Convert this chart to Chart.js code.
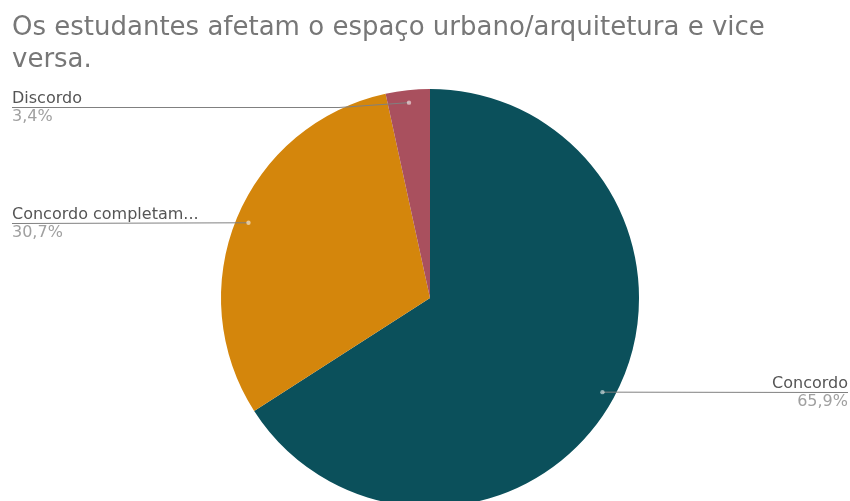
<!DOCTYPE html>
<html lang="pt">
<head>
<meta charset="utf-8">
<title>Os estudantes afetam o espaço urbano/arquitetura e vice versa.</title>
<script src="https://cdn.jsdelivr.net/npm/chart.js@4/dist/chart.umd.min.js"></script>
<style>
    html, body { margin: 0; padding: 0; background: #fff; overflow: hidden; }
    #wrap { position: relative; width: 850px; height: 520px; }
</style>
</head>
<body>
<div id="wrap"><canvas id="surveyChart"></canvas></div>
<script>
// Respostas (contagens) por categoria
const categories = ['Concordo', 'Concordo completamente', 'Discordo'];
const responses = [58, 27, 3];
const sliceColors = ['#0b505b', '#d4860c', '#a9505e'];
const titleLines = ['Os estudantes afetam o espaço urbano/arquitetura e vice', 'versa.'];

const labelFont = '16px "DejaVu Sans", sans-serif';

// Rótulos externos com linha guia, no estilo do Google Sheets
const sliceLabels = {
    id: 'sliceLabels',
    afterDatasetsDraw(chart) {
        const c = chart.ctx;
        const values = chart.data.datasets[0].data;
        const total = values.reduce((a, b) => a + b, 0);
        const arcs = chart.getDatasetMeta(0).data;

        arcs.forEach((arc, i) => {
            const p = arc.getProps(['x', 'y', 'startAngle', 'endAngle', 'outerRadius'], true);
            const mid = (p.startAngle + p.endAngle) / 2;
            const dotX = p.x + Math.cos(mid) * p.outerRadius * 0.94;
            const dotY = p.y + Math.sin(mid) * p.outerRadius * 0.94;
            const right = Math.cos(mid) > 0;
            const lineY = Math.round(Math.max(dotY, chart.chartArea.top + 18)) + 0.5;
            const edgeX = right ? chart.width - 2 : 12;

            // linha guia
            c.save();
            c.strokeStyle = '#808080';
            c.lineWidth = 1;
            c.beginPath();
            c.moveTo(dotX, dotY);
            if (Math.abs(lineY - dotY) > 1.5) {
                c.lineTo(dotX + (right ? 70 : -70), lineY);
            }
            c.lineTo(edgeX, lineY);
            c.stroke();

            // ponto dentro da fatia
            c.fillStyle = 'rgba(255, 255, 255, 0.55)';
            c.beginPath();
            c.arc(dotX, dotY, 2.2, 0, Math.PI * 2);
            c.fill();

            // nome (truncado) e percentagem
            c.font = labelFont;
            c.textAlign = right ? 'right' : 'left';
            c.textBaseline = 'alphabetic';
            let name = chart.data.labels[i];
            if (c.measureText(name).width > 195) {
                while (name.length > 1 && c.measureText(name + '...').width > 195) {
                    name = name.slice(0, -1);
                }
                name += '...';
            }
            c.fillStyle = '#555555';
            c.fillText(name, edgeX, lineY - 4.5);

            const pct = (values[i] / total * 100).toFixed(1).replace('.', ',') + '%';
            c.fillStyle = '#a0a0a0';
            c.fillText(pct, edgeX, lineY + 13.5);
            c.restore();
        });
    }
};

const surveyCtx = document.getElementById('surveyChart').getContext('2d');
const surveyChart = new Chart(surveyCtx, {
    type: 'pie',
    data: {
        labels: categories,
        datasets: [{
            data: responses,
            backgroundColor: sliceColors,
            borderWidth: 0,
            hoverOffset: 0
        }]
    },
    options: {
        responsive: true,
        maintainAspectRatio: false,
        animation: false,
        layout: {
            padding: { top: 0, left: 12, right: 2, bottom: 13 }
        },
        plugins: {
            legend: {
                display: false
            },
            tooltip: {
                enabled: false
            },
            title: {
                display: true,
                text: titleLines,
                align: 'start',
                color: '#777777',
                font: {
                    family: '"DejaVu Sans", sans-serif',
                    size: 26,
                    weight: 'normal',
                    lineHeight: 1.23
                },
                padding: { top: 12, bottom: 13 }
            }
        }
    },
    plugins: [sliceLabels]
});
</script>
</body>
</html>
